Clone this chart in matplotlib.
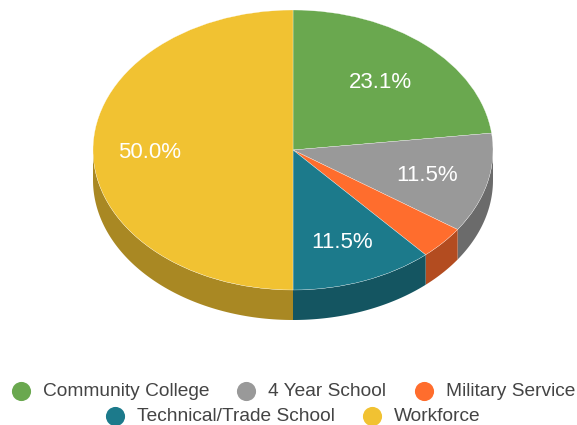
import numpy as np
import matplotlib
matplotlib.use("Agg")
import matplotlib.pyplot as plt

# dados
categorias = ["Community College", "4 Year School", "Military Service",
              "Technical/Trade School", "Workforce"]
valores = [6, 3, 1, 3, 13]
cores = ["#6AA84F", "#999999", "#FF6D2D", "#1C7A8B", "#F1C232"]
cores_lado = ["#4A7637", "#6B6B6B", "#B34C20", "#145561", "#A98823"]

plt.rcParams["font.family"] = ["Liberation Sans", "DejaVu Sans"]

W, H = 577, 425
CX, CY = 293, 150     # centro da pizza em pixels
RX, RY = 200, 140
PROF = 30 / RY        # altura da lateral

fig = plt.figure(figsize=(W / 100, H / 100), dpi=100)
ax = fig.add_axes([0, 0, 1, 1])

total = sum(valores)
acum = np.cumsum([0] + valores) / total * 360

# lateral: so a parte da frente aparece (90 a 270 graus a partir do topo)
for i, cor in enumerate(cores_lado):
    ini = max(acum[i], 90)
    fim = min(acum[i + 1], 270)
    if fim <= ini:
        continue
    t = np.radians(90 - np.linspace(ini, fim, 80))
    xs = np.concatenate([np.cos(t), np.cos(t)[::-1]])
    ys = np.concatenate([np.sin(t), np.sin(t)[::-1] - PROF])
    ax.fill(xs, ys, color=cor, lw=0)

ax.pie(valores, colors=cores, startangle=90, counterclock=False, radius=1,
       wedgeprops={"edgecolor": "#FFFFFF", "linewidth": 0.2})

# rotulos em branco; a fatia pequena fica sem rotulo
dist_rotulo = [0.66, 0.69, 0, 0.69, 0.715]
for i, v in enumerate(valores):
    pct = v / total * 100
    if pct < 5:
        continue
    meio = np.radians(90 - (acum[i] + acum[i + 1]) / 2)
    ax.text(dist_rotulo[i] * np.cos(meio), dist_rotulo[i] * np.sin(meio) - 2 / RY,
            f"{pct:.1f}%", color="white", fontsize=16, ha="center", va="center")

ax.set_aspect("auto")
ax.set_xlim(-CX / RX, (W - CX) / RX)
ax.set_ylim((CY - H) / RY, CY / RY)
ax.axis("off")

# legenda em duas linhas centralizadas
leg = fig.add_axes([0, 0, 1, 1])
leg.set_xlim(0, W)
leg.set_ylim(H, 0)
leg.axis("off")
leg.patch.set_alpha(0)
pos_marca = [(21, 391), (246, 391), (424, 391), (115, 416), (372, 416)]
for (x, y), nome, cor in zip(pos_marca, categorias, cores):
    leg.scatter([x], [y], s=190, color=cor, lw=0)
    leg.text(x + 22, y + 0.5, nome, fontsize=13.8, color="#444444", ha="left", va="center")

fig.savefig("out.png", dpi=100)
